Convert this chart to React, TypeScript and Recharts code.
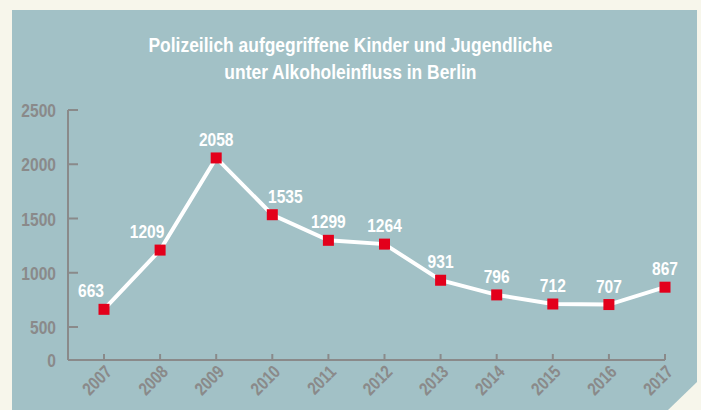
import { LineChart, Line, XAxis, YAxis, LabelList } from "recharts";

const years = ["2007", "2008", "2009", "2010", "2011", "2012", "2013", "2014", "2015", "2016", "2017"];
const cases = [663, 1209, 2058, 1535, 1299, 1264, 931, 796, 712, 707, 867];

// the original axis is broken below 500: the bottom tick is labelled "0"
const axisFloor = 196;
const yTicks = [axisFloor, 500, 1000, 1500, 2000, 2500];

const titleLines = ["Polizeilich aufgegriffene Kinder und Jugendliche", "unter Alkoholeinfluss in Berlin"];

const data = years.map((year, i) => ({ year, value: cases[i] }));

const FONT = "'Liberation Sans', Arial, sans-serif";
const GREY = "#8a8a8a";
const PANEL = "#a2c1c6";
const CREAM = "#f7f6eb";

// no condensed face available, so squeeze regular bold text horizontally
function NarrowText({ x, y, anchor, size, fill, squeeze, rotate, children }: any) {
  return (
    <g transform={`translate(${x}, ${y}) rotate(${rotate || 0}) scale(${squeeze}, 1)`}>
      <text x={0} y={0} textAnchor={anchor} fill={fill} fontFamily={FONT} fontWeight="bold" fontSize={size}>
        {children}
      </text>
    </g>
  );
}

function YTick(props: any) {
  const { x, y, payload } = props;
  const label = payload.value === axisFloor ? "0" : String(payload.value);
  return (
    <g>
      {payload.value !== axisFloor && (
        <line x1={x} y1={y} x2={x + 10} y2={y} stroke={GREY} strokeWidth={2} />
      )}
      <NarrowText x={x - 12} y={y + 7} anchor="end" size={19} fill={GREY} squeeze={0.82}>
        {label}
      </NarrowText>
    </g>
  );
}

function XTick(props: any) {
  const { x, y, payload } = props;
  return (
    <g>
      <line x1={x} y1={y} x2={x} y2={y - 6} stroke={GREY} strokeWidth={2} />
      <NarrowText x={x + 9} y={y + 13} anchor="end" size={18} fill={GREY} squeeze={0.82} rotate={-45}>
        {payload.value}
      </NarrowText>
    </g>
  );
}

function ValueLabel(props: any) {
  const { x, y, width, value, index } = props;
  // nudge labels sideways where a steep segment would run through them
  let dx = 0;
  if (index < cases.length - 1 && cases[index + 1] - cases[index] > 500) dx = -13;
  if (index > 0 && cases[index - 1] - cases[index] > 400) dx = 13;
  return (
    <NarrowText x={x + (width || 0) / 2 + dx} y={y - 12} anchor="middle" size={19} fill="#ffffff" squeeze={0.82}>
      {value}
    </NarrowText>
  );
}

function SquareDot(props: any) {
  const { cx, cy } = props;
  if (cx == null || cy == null) return null;
  return <rect x={cx - 5.5} y={cy - 5.5} width={11} height={11} fill="#e3001b" />;
}

export default function App() {
  return (
    <div style={{ position: "absolute", left: 0, top: 0, width: 701, height: 410, background: CREAM, overflow: "hidden" }}>
      <div
        style={{
          position: "absolute",
          left: 12,
          top: 10,
          width: 685,
          height: 400,
          background: PANEL,
          clipPath: "polygon(0 0, 685px 0, 685px 372px, 656px 400px, 0 400px)",
        }}
      />
      <div
        style={{
          position: "absolute",
          left: 0,
          top: 31,
          width: 701,
          textAlign: "center",
          color: "#ffffff",
          fontFamily: FONT,
          fontWeight: "bold",
          fontSize: 21,
          lineHeight: "27px",
          transform: "scaleX(0.83)",
          transformOrigin: "350px 0",
        }}
      >
        {titleLines.map((t) => (
          <div key={t}>{t}</div>
        ))}
      </div>
      <div style={{ position: "absolute", left: 0, top: 0 }}>
        <LineChart width={701} height={410} data={data} margin={{ top: 110, right: 36, bottom: 0, left: 0 }}>
          <XAxis
            dataKey="year"
            height={50}
            padding={{ left: 36, right: 0 }}
            axisLine={{ stroke: GREY, strokeWidth: 2 }}
            tickLine={false}
            tickSize={0}
            tickMargin={0}
            interval={0}
            tick={<XTick />}
          />
          <YAxis
            width={68}
            domain={[axisFloor, 2500]}
            ticks={yTicks}
            allowDataOverflow
            axisLine={{ stroke: GREY, strokeWidth: 2 }}
            tickLine={false}
            tickSize={0}
            tickMargin={0}
            tick={<YTick />}
          />
          <Line
            type="linear"
            dataKey="value"
            stroke="#ffffff"
            strokeWidth={4}
            dot={<SquareDot />}
            activeDot={false}
            isAnimationActive={false}
          >
            <LabelList dataKey="value" content={<ValueLabel />} />
          </Line>
        </LineChart>
      </div>
    </div>
  );
}
